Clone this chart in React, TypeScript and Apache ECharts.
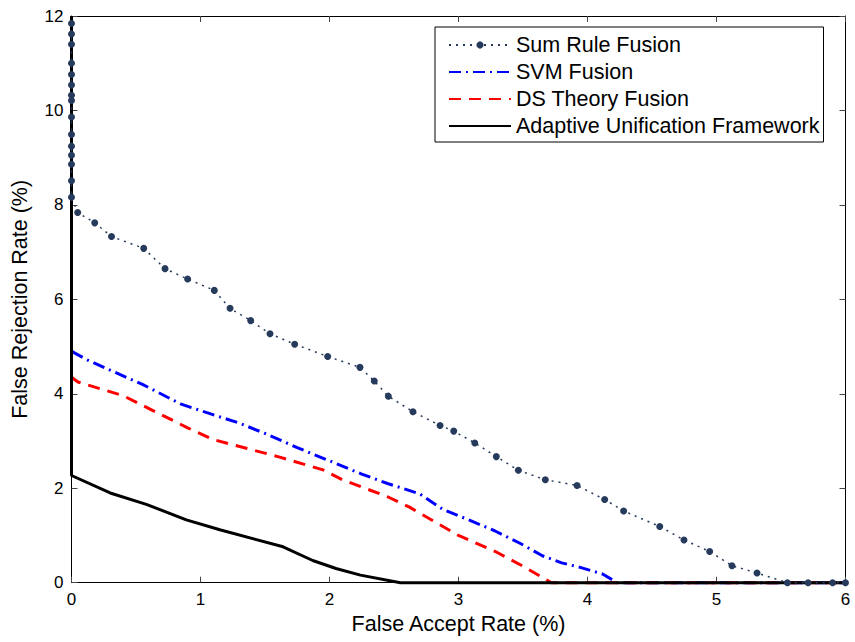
import React, { useEffect, useRef } from "react";
import * as echarts from "echarts";

const xTicks = [0, 1, 2, 3, 4, 5, 6];
const yTicks = [0, 2, 4, 6, 8, 10, 12];

const sumRuleFAR = [0, 0, 0, 0, 0, 0, 0, 0, 0, 0, 0, 0, 0, 0, 0, 0.048, 0.18, 0.31, 0.56, 0.725, 0.9, 1.107, 1.229, 1.389, 1.539, 1.73, 1.986, 2.236, 2.347, 2.456, 2.647, 2.857, 2.963, 3.126, 3.293, 3.464, 3.673, 3.919, 4.133, 4.28, 4.56, 4.748, 4.947, 5.12, 5.314, 5.55, 5.71, 5.9, 6.0];
const sumRuleFRR = [11.84, 11.62, 11.4, 11.0, 10.76, 10.54, 10.32, 10.21, 9.86, 9.49, 9.24, 9.05, 8.86, 8.51, 8.16, 7.84, 7.62, 7.33, 7.08, 6.65, 6.43, 6.19, 5.81, 5.55, 5.27, 5.05, 4.79, 4.56, 4.27, 3.95, 3.62, 3.33, 3.21, 2.96, 2.67, 2.38, 2.18, 2.06, 1.76, 1.52, 1.19, 0.905, 0.66, 0.36, 0.205, 0, 0, 0, 0];

const svmFAR = [0, 0, 0.12, 0.3, 0.55, 0.85, 1.05, 1.3, 1.5, 1.75, 2.0, 2.25, 2.45, 2.7, 2.88, 3.08, 3.28, 3.48, 3.65, 3.8, 3.95, 4.12, 4.23, 6];
const svmFRR = [12, 4.9, 4.72, 4.5, 4.2, 3.78, 3.6, 3.38, 3.16, 2.86, 2.58, 2.3, 2.1, 1.88, 1.55, 1.33, 1.1, 0.83, 0.57, 0.42, 0.32, 0.18, 0, 0];

const dsFAR = [0, 0, 0.05, 0.4, 0.9, 1.1, 1.6, 1.95, 2.1, 2.45, 2.62, 3.0, 3.3, 3.5, 3.72, 6];
const dsFRR = [12, 4.35, 4.25, 3.96, 3.28, 3.03, 2.67, 2.39, 2.18, 1.82, 1.6, 1.0, 0.64, 0.35, 0, 0];

const aufFAR = [0, 0, 0.3, 0.58, 0.89, 1.15, 1.64, 1.87, 2.05, 2.24, 2.55, 6];
const aufFRR = [12, 2.27, 1.9, 1.66, 1.33, 1.12, 0.76, 0.47, 0.3, 0.16, 0, 0];

const seriesNames = ["Sum Rule Fusion", "SVM Fusion", "DS Theory Fusion", "Adaptive Unification Framework"];

const zip = (xs: number[], ys: number[]) => xs.map((x, i) => [x, ys[i]]);

const FONT = "Liberation Sans";
const hiddenSymbol = { color: "rgba(0,0,0,0)", borderColor: "rgba(0,0,0,0)", borderWidth: 0, opacity: 0 };

export default function App() {
  const ref = useRef<HTMLDivElement>(null);
  useEffect(() => {
    if (!ref.current) return;
    const chart = echarts.init(ref.current, null, { renderer: "svg" });
    const baseAxis = {
      min: 0,
      axisLine: { show: true, onZero: false, lineStyle: { color: "#000", width: 1 } },
      axisTick: { show: true, inside: true, length: 6, lineStyle: { color: "#444" } },
      splitLine: { show: false },
    };
    chart.setOption({
      animation: false,
      backgroundColor: "#fff",
      textStyle: { fontFamily: FONT },
      grid: { left: 71.5, right: 9.5, top: 16, bottom: 59.3, containLabel: false },
      legend: {
        data: [
          { name: seriesNames[0] },
          { name: seriesNames[1], itemStyle: hiddenSymbol },
          { name: seriesNames[2], itemStyle: hiddenSymbol },
          { name: seriesNames[3], itemStyle: hiddenSymbol },
        ],
        orient: "vertical",
        left: 435,
        top: 27,
        itemWidth: 62,
        itemHeight: 9,
        itemGap: 5,
        padding: [7, 4, 5, 13],
        borderColor: "#000",
        borderWidth: 1,
        backgroundColor: "#fff",
        textStyle: { fontFamily: FONT, fontSize: 21.5, color: "#000" },
      },
      xAxis: [
        {
          ...baseAxis,
          type: "value",
          max: 6,
          interval: 1,
          position: "bottom",
          name: "False Accept Rate (%)",
          nameLocation: "middle",
          nameGap: 26,
          nameTextStyle: { fontFamily: FONT, fontSize: 21.5, color: "#000" },
          axisLabel: { fontFamily: FONT, fontSize: 17, color: "#000", margin: 8, formatter: (v: number) => (xTicks.includes(v) ? String(v) : "") },
        },
        {
          ...baseAxis,
          type: "value",
          max: 6,
          interval: 1,
          position: "top",
          axisLabel: { show: false },
        },
      ],
      yAxis: [
        {
          ...baseAxis,
          type: "value",
          max: 12,
          interval: 2,
          position: "left",
          name: "False Rejection Rate (%)",
          nameLocation: "middle",
          nameGap: 41,
          nameTextStyle: { fontFamily: FONT, fontSize: 21.5, color: "#000" },
          axisLabel: { fontFamily: FONT, fontSize: 17, color: "#000", margin: 8, formatter: (v: number) => (yTicks.includes(v) ? String(v) : "") },
        },
        {
          ...baseAxis,
          type: "value",
          max: 12,
          interval: 2,
          position: "right",
          axisLabel: { show: false },
        },
      ],
      series: [
        {
          name: seriesNames[0],
          type: "line",
          data: zip(sumRuleFAR, sumRuleFRR),
          symbol: "circle",
          symbolSize: 7,
          showAllSymbol: true,
          clip: false,
          z: 5,
          itemStyle: { color: "#263a5c" },
          lineStyle: { color: "#263a5c", width: 1.5, type: [2, 5] },
        },
        {
          name: seriesNames[1],
          type: "line",
          data: zip(svmFAR, svmFRR),
          symbol: "none",
          clip: false,
          z: 2,
          itemStyle: { color: "#0000ff" },
          lineStyle: { color: "#0000ff", width: 3, type: [12, 5, 2, 5] },
        },
        {
          name: seriesNames[2],
          type: "line",
          data: zip(dsFAR, dsFRR),
          symbol: "none",
          clip: false,
          z: 2,
          itemStyle: { color: "#ff0000" },
          lineStyle: { color: "#ff0000", width: 3, type: [12, 8] },
        },
        {
          name: seriesNames[3],
          type: "line",
          data: zip(aufFAR, aufFRR),
          symbol: "none",
          clip: false,
          z: 3,
          itemStyle: { color: "#000" },
          lineStyle: { color: "#000", width: 3, type: "solid" },
        },
      ],
    });
    return () => chart.dispose();
  }, []);
  return <div ref={ref} style={{ width: 855, height: 642, position: "absolute", left: 0, top: 0 }} />;
}
